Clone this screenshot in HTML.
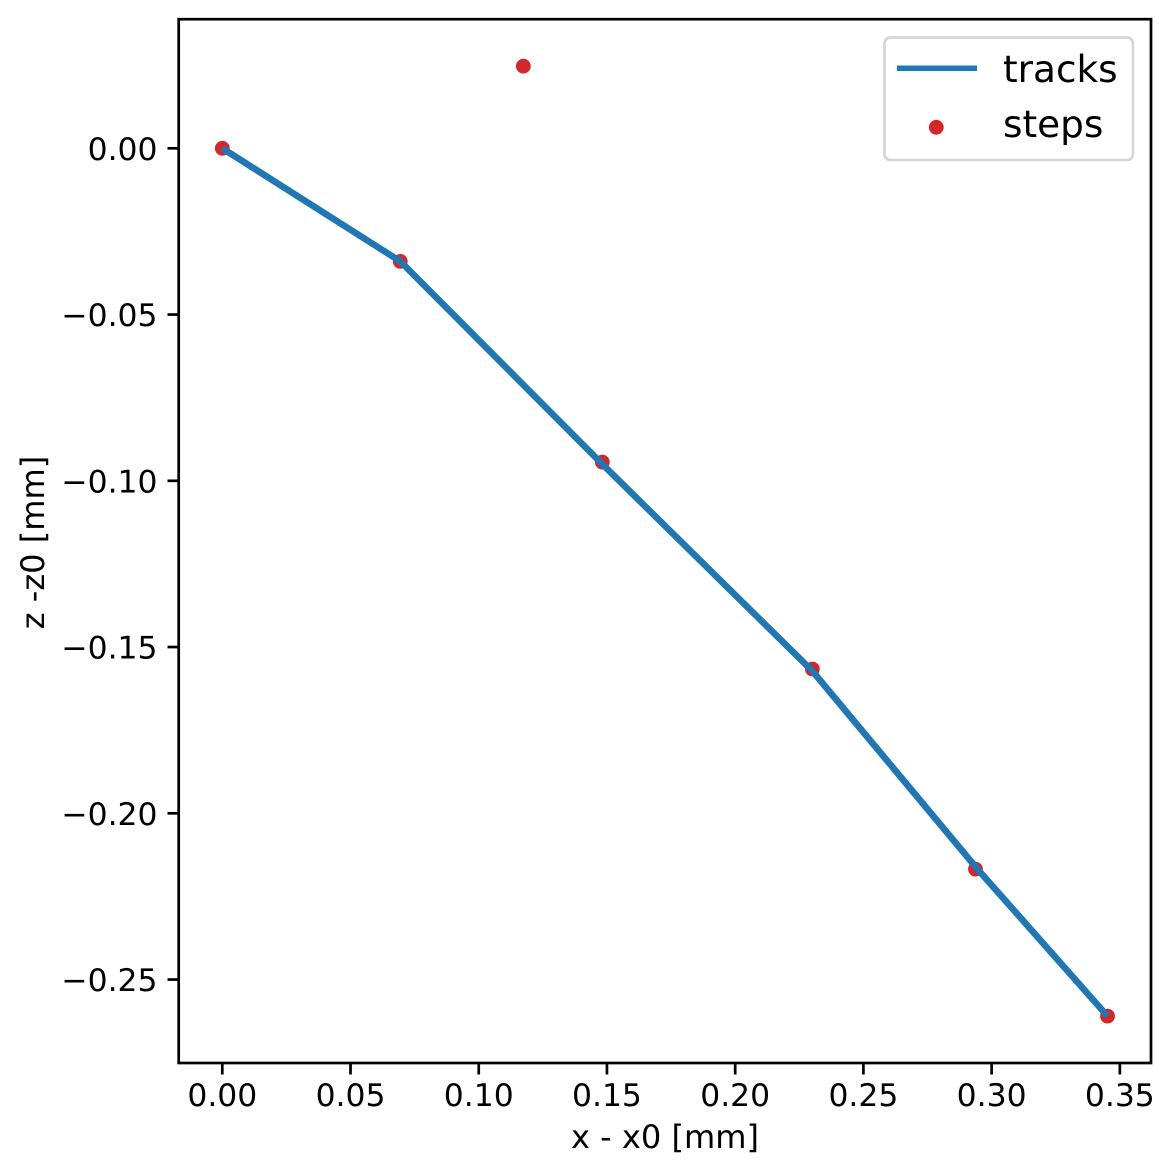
<!DOCTYPE html>
<html>
<head>
<meta charset="utf-8">
<title>tracks and steps</title>
<style>
html,body{margin:0;padding:0;background:#fff;}
svg{display:block;}
text{font-family:"DejaVu Sans","Liberation Sans",sans-serif;fill:#000;}
</style>
</head>
<body>
<svg id="chart" xmlns="http://www.w3.org/2000/svg" width="1174" height="1174" viewBox="0 0 1174 1174">
  <rect x="0" y="0" width="1174" height="1174" fill="#fff"/>
  <g id="marks"></g>
  <g id="axes"></g>
  <rect x="178.7" y="19.2" width="972.3" height="1043.8" fill="none" stroke="#000" stroke-width="2.7"/>
  <text x="665" y="1148" font-size="32.1" text-anchor="middle">x - x0 [mm]</text>
  <text transform="translate(44 542.5) rotate(-90)" font-size="32.1" text-anchor="middle">z -z0 [mm]</text>
  <g>
    <rect x="884.5" y="37.5" width="248.5" height="122.5" rx="6" ry="6" fill="#fff" fill-opacity="0.8" stroke="#d6d6d6" stroke-width="2.7"/>
    <line x1="897" y1="68.3" x2="977" y2="68.3" stroke="#1f77b4" stroke-width="5.5"/>
    <text x="1003" y="82" font-size="37.4">tracks</text>
    <circle cx="936.3" cy="127.3" r="7.4" fill="#d62728"/>
    <text x="1003" y="137" font-size="37.4">steps</text>
  </g>
</svg>
<script>
var stepX = [0, 0.0694, 0.1482, 0.2301, 0.2937, 0.3452, 0.1174];
var stepZ = [0, -0.0340, -0.0944, -0.1566, -0.2168, -0.2610, 0.0247];
var trackX = [0, 0.0694, 0.1482, 0.2301, 0.2945, 0.3452];
var trackZ = [0, -0.0340, -0.0950, -0.1572, -0.2168, -0.2610];
var xTicks = [0, 0.05, 0.10, 0.15, 0.20, 0.25, 0.30, 0.35];
var xTickLabels = ["0.00", "0.05", "0.10", "0.15", "0.20", "0.25", "0.30", "0.35"];
var zTicks = [0, -0.05, -0.10, -0.15, -0.20, -0.25];
var zTickLabels = ["0.00", "\u22120.05", "\u22120.10", "\u22120.15", "\u22120.20", "\u22120.25"];

var NS = "http://www.w3.org/2000/svg";
function xScale(v) { return 222.3 + v * 2564.4; }
function yScale(v) { return 148.3 - v * 3325; }
function make(tag, attrs, parent) {
  var el = document.createElementNS(NS, tag);
  for (var k in attrs) { el.setAttribute(k, attrs[k]); }
  parent.appendChild(el);
  return el;
}
var marks = document.getElementById("marks");
var axes = document.getElementById("axes");

stepX.forEach(function (x, i) {
  var c = make("circle", { cx: xScale(x), cy: yScale(stepZ[i]), r: 7.4, fill: "#d62728" }, marks);
  
  
});

var pts = trackX.map(function (x, i) { return xScale(x) + "," + yScale(trackZ[i]); }).join(" ");
var track = make("polyline", { points: pts, fill: "none", stroke: "#1f77b4", "stroke-width": 6.6, "stroke-linejoin": "round", "stroke-linecap": "butt" }, marks);



xTicks.forEach(function (v, i) {
  var px = xScale(v);
  var t = make("line", { x1: px, x2: px, y1: 1063, y2: 1074.5, stroke: "#000", "stroke-width": 2.7 }, axes);
  
  
  var l = make("text", { x: px, y: 1106, "font-size": 31.4, "text-anchor": "middle" }, axes);
  
  
  l.textContent = xTickLabels[i];
});

zTicks.forEach(function (v, i) {
  var py = yScale(v);
  var t = make("line", { x1: 167.5, x2: 178.7, y1: py, y2: py, stroke: "#000", "stroke-width": 2.7 }, axes);
  
  
  var l = make("text", { x: 157.5, y: py + 11.5, "font-size": 31.4, "text-anchor": "end" }, axes);
  
  
  l.textContent = zTickLabels[i];
});
</script>
</body>
</html>
